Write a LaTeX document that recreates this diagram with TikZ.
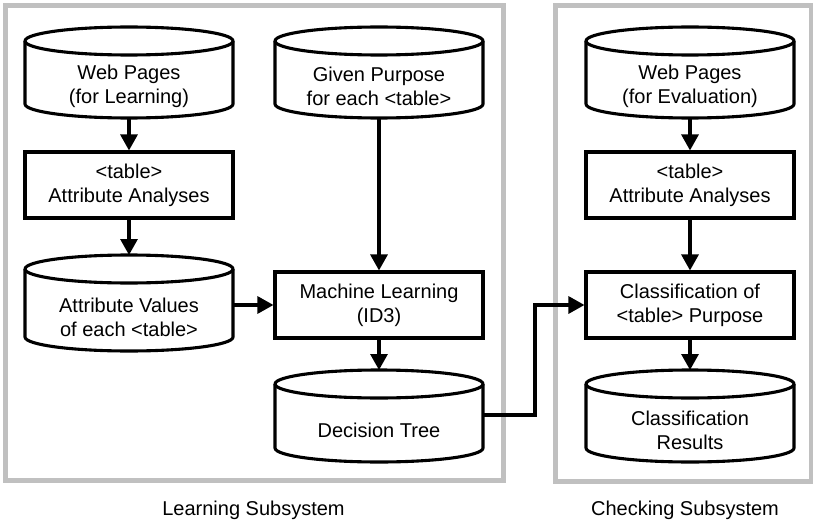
\documentclass[tikz,border=0pt]{standalone}
\usepackage{fontspec}
\setmainfont{Liberation Sans}
\usetikzlibrary{arrows.meta}

\definecolor{framegray}{RGB}{192,192,192}

% Database symbol: a body node (the text area below the top ellipse)
% plus its outline; #1 name, #2 centre of body, #3 body height, #4 text
\newcommand\cylnode[4]{%
  \node[cylbody, minimum height=#3pt] (#1) at (#2) {#4};
  \draw[outline] ([yshift=14pt]#1.north west) -- ([yshift=14pt]#1.south west)
    arc[start angle=180, end angle=360, x radius=104pt, y radius=14pt]
    -- ([yshift=14pt]#1.north east);
  \draw[outline] ([yshift=14pt]#1.north) ellipse[x radius=104pt, y radius=14pt];
  \coordinate (#1-top) at ([yshift=28pt]#1.north);
}

\begin{document}
\begin{tikzpicture}[x=1pt, y=-1pt,
  every node/.style={font=\fontsize{20pt}{24pt}\selectfont, align=center},
  outline/.style={line width=3.1pt, line join=round},
  cylbody/.style={inner sep=0pt, outer sep=0pt, minimum width=208pt},
  procbox/.style={draw, line width=3.1pt, inner sep=0pt,
    minimum width=208pt, minimum height=66pt},
  arr/.style={line width=3.1pt, -{Triangle[length=16pt, width=17pt]}},
  frame/.style={draw=framegray, line width=5pt},
  caption/.style={inner sep=0pt}]

\fill[white] (0,0) rectangle (813,524);
\useasboundingbox (0,0) rectangle (813,524);

% subsystem frames
\draw[frame] (5.5,6) rectangle (503,480);
\draw[frame] (555,6) rectangle (811,481);

% learning subsystem
\cylnode{wpL}{129,86.5}{63}{Web Pages\\(for Learning)}
\node[procbox] (aaL) at (129,185) {<table>\\Attribute Analyses};
\cylnode{avL}{129,317}{68}{Attribute Values\\of each <table>}
\cylnode{gp}{379,86.5}{63}{Given Purpose\\for each <table>}
\node[procbox] (ml) at (379,305) {Machine Learning\\(ID3)};
\cylnode{dt}{379,430}{64}{Decision Tree}

% checking subsystem
\cylnode{wpR}{690,86.5}{63}{Web Pages\\(for Evaluation)}
\node[procbox] (aaR) at (690,185) {<table>\\Attribute Analyses};
\node[procbox] (cl) at (690,305) {Classification of\\<table> Purpose};
\cylnode{res}{690,430}{64}{Classification\\Results}

% data flow
\draw[arr] (wpL.south) -- (aaL.north);
\draw[arr] (aaL.south) -- (avL-top);
\draw[arr] (avL.east |- ml.west) -- (ml.west);
\draw[arr] (gp.south) -- (ml.north);
\draw[arr] (ml.south) -- (dt-top);
\draw[arr] ([yshift=15pt]dt.east) -- ++(52,0) |- (cl.west);
\draw[arr] (wpR.south) -- (aaR.north);
\draw[arr] (aaR.south) -- (cl.north);
\draw[arr] (cl.south) -- (res-top);

% captions
\node[caption] (capL) at (253.5,510) {Learning Subsystem};
\node[caption] (capR) at (685,510) {Checking Subsystem};
\end{tikzpicture}
\end{document}
